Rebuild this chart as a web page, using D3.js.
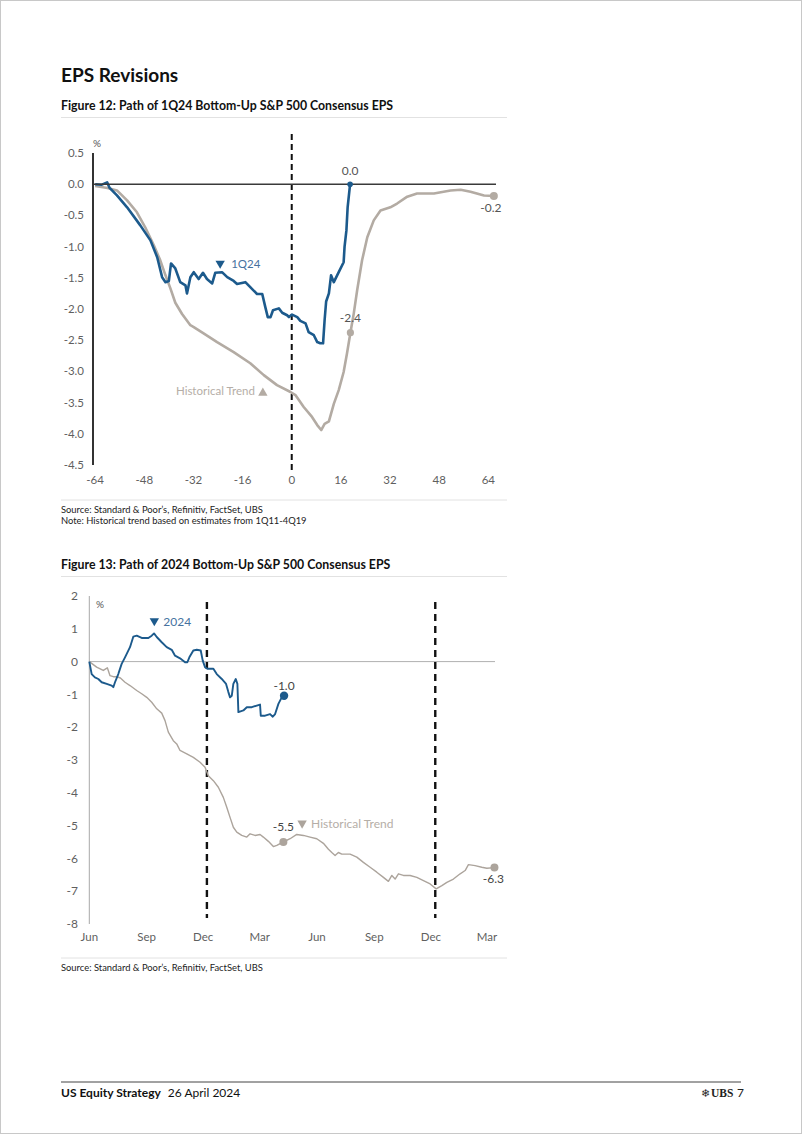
<!DOCTYPE html>
<html><head><meta charset="utf-8">
<script src="https://cdn.jsdelivr.net/npm/d3@7"></script>
<style>
html,body{margin:0;padding:0;background:#fff;}
svg{display:block;font-family:Lato,"Noto Sans",sans-serif;}
</style></head>
<body>
<script>
// ---------- Figure 12 data (x = trading weeks relative to quarter end, y = % revision) ----------
const fig12Ticks = [-64,-48,-32,-16,0,16,32,48,64];
const fig12YTicks = [0.5,0,-0.5,-1,-1.5,-2,-2.5,-3,-3.5,-4,-4.5];
const q124X = [-64,-62,-60.1,-59.3,-56.9,-53.6,-49.3,-46,-43.8,-42.2,-41.1,-40,-39.3,-37.9,-36.3,-34.6,-34.1,-33,-31.9,-30.3,-28.9,-27.6,-25.9,-24.9,-22.7,-21,-18.9,-17.8,-15.1,-13.5,-11.3,-9.6,-8.6,-7.8,-6.9,-6.1,-4.2,-3.1,-1.5,-0.9,0.1,1.8,2.8,4.5,5.5,7.2,8.3,9.3,10.2,10.7,11.2,12.1,12.8,13.7,15.3,16.9,17.2,17.8,18.2,19];
const q124Y = [0,-0.01,0.03,-0.06,-0.18,-0.37,-0.66,-0.9,-1.17,-1.49,-1.57,-1.55,-1.27,-1.35,-1.57,-1.62,-1.75,-1.49,-1.41,-1.52,-1.42,-1.52,-1.59,-1.42,-1.41,-1.49,-1.55,-1.6,-1.57,-1.65,-1.76,-1.76,-1.97,-2.13,-2.13,-2.02,-1.99,-2.06,-2.1,-2.13,-2.09,-2.13,-2.19,-2.23,-2.37,-2.42,-2.53,-2.55,-2.55,-2.18,-1.88,-1.75,-1.46,-1.57,-1.41,-1.25,-1.0,-0.74,-0.37,0.0];
const histX = [-64,-60,-56.9,-53.6,-50.4,-47.7,-44.9,-42.8,-41.1,-39.5,-37.9,-35.7,-33,-31.9,-28.7,-24.3,-18.9,-13.5,-9.1,-4.8,-0.4,1.2,3.9,6.6,8.3,9.6,10.7,12.1,13.7,15.3,16.9,18,19.1,20.2,21.3,22.9,24.6,26.7,28.9,32.1,34.3,37.6,40.8,46.3,51.7,55,58.2,62.6,65.8];
const histY = [-0.03,-0.06,-0.1,-0.26,-0.45,-0.69,-0.98,-1.22,-1.46,-1.67,-1.9,-2.08,-2.26,-2.29,-2.39,-2.53,-2.69,-2.87,-3.06,-3.22,-3.33,-3.38,-3.57,-3.73,-3.86,-3.94,-3.84,-3.8,-3.52,-3.3,-3.01,-2.71,-2.38,-2.07,-1.7,-1.22,-0.85,-0.58,-0.42,-0.37,-0.31,-0.2,-0.15,-0.15,-0.1,-0.09,-0.12,-0.18,-0.19];

// ---------- Figure 13 data (days since 1 Jun 2023, % revision) ----------
const fig13Start = "2023-06-01";
const fig13End = "2025-03-14";
const fig13TickDates = ["2023-06-01","2023-09-01","2023-12-01","2024-03-01","2024-06-01","2024-09-01","2024-12-01","2025-03-01"];
const fig13YTicks = [2,1,0,-1,-2,-3,-4,-5,-6,-7,-8];
const fig13Dashed = ["2023-12-07","2024-12-08"];
const y2024Day = [0,3.8,9,14.5,19.9,28,36,38.6,41.3,46.6,52,57.4,65.4,70.7,76.2,84.2,94.9,100.3,104,108.4,116.4,124.4,132.5,137.8,145.8,153.9,157.6,160.8,167.2,172.7,179.1,182.3,186,189.7,199.4,204.8,212.9,219.8,223.5,226.2,229,231.5,235.4,238,239.6,247.6,253.1,261.1,269.1,274.4,275.6,282.5,290.5,294.9,298.6,303.9,309.3,313];
const y2024Val = [0,-0.38,-0.48,-0.53,-0.63,-0.68,-0.73,-0.78,-0.63,-0.38,-0.07,0.13,0.44,0.76,0.79,0.72,0.72,0.79,0.86,0.75,0.59,0.44,0.36,0.18,0.1,-0.02,-0.02,0.13,0.34,0.36,0.34,0.03,-0.17,-0.22,-0.22,-0.38,-0.53,-0.68,-0.93,-1.09,-1.04,-0.68,-0.53,-0.68,-1.54,-1.49,-1.39,-1.39,-1.34,-1.31,-1.65,-1.65,-1.6,-1.68,-1.6,-1.29,-1.09,-1.04];
const hist13Day = [0,11.8,22.5,29,33.3,38.6,44,50,57.4,65.4,76.2,84.2,92.3,100.3,108.4,116.4,121.7,127,135,140.5,145.8,156.6,167.2,178,186,191.3,199.4,207.4,215.4,220.9,226.2,231.5,237,245,253.1,258.4,266.4,274.4,279.7,287.8,295.8,301.3,311.9,322.7,333.4,344.1,354.8,365.6,376.2,384.3,389.7,395,400.3,405.8,419.1,429.9,440.5,451.3,462,472.7,480.7,486.2,491.5,496.8,504.8,515.6,526.4,537,547.8,557.4,566.6,574.6,585.2,596,604,609.3,620,630.8,638.9,651.1];
const hist13Val = [0,-0.17,-0.27,-0.19,-0.43,-0.46,-0.46,-0.5,-0.63,-0.73,-0.88,-0.98,-1.09,-1.24,-1.44,-1.57,-1.8,-2.15,-2.41,-2.51,-2.71,-2.81,-2.92,-3.07,-3.22,-3.48,-3.63,-3.83,-4.14,-4.44,-4.75,-5.05,-5.2,-5.3,-5.35,-5.25,-5.3,-5.27,-5.35,-5.48,-5.64,-5.6,-5.5,-5.4,-5.27,-5.3,-5.35,-5.4,-5.54,-5.72,-5.82,-5.91,-5.82,-5.87,-5.87,-5.96,-6.12,-6.27,-6.42,-6.58,-6.7,-6.52,-6.63,-6.47,-6.52,-6.52,-6.58,-6.68,-6.78,-6.93,-6.83,-6.73,-6.63,-6.47,-6.37,-6.19,-6.22,-6.27,-6.3,-6.28];

// ---------- styles ----------
const BLUE = "#1c5a8c", BLUE_TXT = "#46729f", GREY = "#b3aba3", GREY2 = "#aca49c", GREY_TXT = "#b5aea7", TICK = "#5f5f5f";
const loc = d3.formatLocale({decimal:".", thousands:",", grouping:[3], currency:["",""], minus:"-"});
const fmt = loc.format(".1f"), fmtInt = loc.format("d");

const W = 802, H = 1134;
const svg = d3.select("body").append("svg").attr("width", W).attr("height", H);
svg.append("rect").attr("x",0.5).attr("y",0.5).attr("width",W-1).attr("height",H-1).attr("fill","#fff").attr("stroke","#c8c8c8");

// Header
svg.append("text").attr("x",61).attr("y",82).attr("font-size",19).attr("font-weight",700).attr("fill","#111").text("EPS Revisions");

function figTitle(y, txt, sepY, srcLines, srcSepY){
  svg.append("text").attr("x",61).attr("y",y).attr("font-size",12.3).attr("font-weight",700).attr("fill","#111").text(txt);
  svg.append("line").attr("x1",61).attr("x2",507).attr("y1",sepY).attr("y2",sepY).attr("stroke","#e2e2e2");
  svg.append("line").attr("x1",61).attr("x2",507).attr("y1",srcSepY).attr("y2",srcSepY).attr("stroke","#e2e2e2");
  srcLines.forEach((s,i)=> svg.append("text").attr("x",61).attr("y",srcSepY+13+i*10.5).attr("font-size",9.4).attr("fill","#222").text(s));
}
figTitle(110, "Figure 12: Path of 1Q24 Bottom-Up S&P 500 Consensus EPS", 117.5,
  ["Source: Standard & Poor’s, Refinitiv, FactSet, UBS","Note: Historical trend based on estimates from 1Q11-4Q19"], 500);
figTitle(569, "Figure 13: Path of 2024 Bottom-Up S&P 500 Consensus EPS", 576.5,
  ["Source: Standard & Poor’s, Refinitiv, FactSet, UBS"], 958);

// ================= Figure 12 =================
const x1 = d3.scaleLinear().domain([-64.7, 66.5]).range([93, 496]);
const y1 = d3.scaleLinear().domain([-4.5, 0.5]).range([465, 153]);
const g1 = svg.append("g");

g1.selectAll("text.yt").data(fig12YTicks).join("text")
  .attr("x",84).attr("y",d=>y1(d)).attr("dy","0.35em").attr("text-anchor","end")
  .attr("font-size",11.5).attr("fill",TICK).text(d=>fmt(d));
g1.selectAll("text.xt").data(fig12Ticks).join("text")
  .attr("x",d=>x1(d)).attr("y",483.5).attr("text-anchor","middle")
  .attr("font-size",11.5).attr("fill",TICK).text(d=>fmtInt(d));
g1.append("text").attr("x",93).attr("y",147).attr("font-size",10).attr("fill","#555").text("%");

// dashed zero week line
g1.append("line").attr("x1",x1(0)).attr("x2",x1(0)).attr("y1",134).attr("y2",471)
  .attr("stroke","#111").attr("stroke-width",2).attr("stroke-dasharray","6,4");

const line1 = d3.line().x(d=>x1(d[0])).y(d=>y1(d[1]));
g1.append("path").datum(histX.map((x,i)=>[x,histY[i]])).attr("d",line1)
  .attr("fill","none").attr("stroke",GREY).attr("stroke-width",2.6).attr("stroke-linejoin","round");
g1.append("path").datum(q124X.map((x,i)=>[x,q124Y[i]])).attr("d",line1)
  .attr("fill","none").attr("stroke",BLUE).attr("stroke-width",2.6).attr("stroke-linejoin","round");

// axes lines
g1.append("line").attr("x1",x1.range()[0]).attr("x2",x1.range()[1]).attr("y1",y1(0)).attr("y2",y1(0)).attr("stroke","#3a3a3a").attr("stroke-width",1.5);
g1.append("line").attr("x1",93).attr("x2",93).attr("y1",y1(0.5)).attr("y2",y1(-4.5)).attr("stroke","#333").attr("stroke-width",2);

// end markers & value labels
const bLast = q124X.length-1, hLast = histX.length-1, hAt = histX.indexOf(19.1);
g1.append("circle").attr("cx",x1(q124X[bLast])).attr("cy",y1(q124Y[bLast])).attr("r",2.8).attr("fill",BLUE);
g1.append("circle").attr("cx",x1(histX[hAt])).attr("cy",y1(histY[hAt])).attr("r",3.6).attr("fill",GREY);
g1.append("circle").attr("cx",x1(histX[hLast])).attr("cy",y1(histY[hLast])).attr("r",4).attr("fill",GREY);
g1.append("text").attr("x",x1(q124X[bLast])).attr("y",y1(q124Y[bLast])-9).attr("text-anchor","middle").attr("font-size",12).attr("fill","#555").text(fmt(q124Y[bLast]));
g1.append("text").attr("x",x1(histX[hAt])).attr("y",y1(histY[hAt])-11).attr("text-anchor","middle").attr("font-size",12).attr("fill","#555").text(fmt(histY[hAt]));
g1.append("text").attr("x",x1(histX[hLast])-3).attr("y",y1(histY[hLast])+16).attr("text-anchor","middle").attr("font-size",12).attr("fill","#555").text(fmt(histY[hLast]));

// series annotations
const tri = d3.symbol(d3.symbolTriangle).size(38);
g1.append("path").attr("d",tri()).attr("transform",`translate(${x1(-23.3)},${y1(-1.27)}) rotate(180)`).attr("fill",BLUE);
g1.append("text").attr("x",x1(-23.3)+11).attr("y",y1(-1.27)+4.5).attr("font-size",11.5).attr("fill",BLUE_TXT).text("1Q24");
g1.append("path").attr("d",tri()).attr("transform",`translate(${x1(-9.4)},${y1(-3.33)+1})`).attr("fill",GREY);
g1.append("text").attr("x",x1(-9.4)-8).attr("y",y1(-3.33)+3).attr("text-anchor","end").attr("font-size",11.5).attr("fill",GREY_TXT).text("Historical Trend");

// ================= Figure 13 =================
const parse = d3.utcParse("%Y-%m-%d");
const start = parse(fig13Start);
const dayToDate = d => new Date(start.getTime() + d*86400000);
const x2 = d3.scaleUtc().domain([start, parse(fig13End)]).range([89.3, 495]);
const y2 = d3.scaleLinear().domain([-8, 2]).range([924, 596]);
const g2 = svg.append("g");

g2.selectAll("text.yt").data(fig13YTicks).join("text")
  .attr("x",78).attr("y",d=>y2(d)).attr("dy","0.35em").attr("text-anchor","end")
  .attr("font-size",12).attr("fill",TICK).text(d=>fmtInt(d));
g2.selectAll("text.xt").data(fig13TickDates.map(parse)).join("text")
  .attr("x",d=>x2(d)).attr("y",941).attr("text-anchor","middle")
  .attr("font-size",11.5).attr("fill",TICK).text(d=>d3.utcFormat("%b")(d));
g2.append("text").attr("x",96).attr("y",608).attr("font-size",10).attr("fill","#555").text("%");

g2.append("line").attr("x1",89.3).attr("x2",495).attr("y1",y2(0)).attr("y2",y2(0)).attr("stroke","#b0b0b0").attr("stroke-width",1);
g2.append("line").attr("x1",89.3).attr("x2",89.3).attr("y1",y2(2)).attr("y2",y2(-8)).attr("stroke","#a8a8a8").attr("stroke-width",1);

g2.selectAll("line.dash").data(fig13Dashed.map(parse)).join("line")
  .attr("x1",d=>x2(d)).attr("x2",d=>x2(d)).attr("y1",602).attr("y2",918)
  .attr("stroke","#111").attr("stroke-width",2.4).attr("stroke-dasharray","7,5");

const line2 = d3.line().x(d=>x2(dayToDate(d[0]))).y(d=>y2(d[1]));
g2.append("path").datum(hist13Day.map((d,i)=>[d,hist13Val[i]])).attr("d",line2)
  .attr("fill","none").attr("stroke",GREY2).attr("stroke-width",1.4).attr("stroke-linejoin","round");
g2.append("path").datum(y2024Day.map((d,i)=>[d,y2024Val[i]])).attr("d",line2)
  .attr("fill","none").attr("stroke",BLUE).attr("stroke-width",1.9).attr("stroke-linejoin","round");

const b2 = y2024Day.length-1, h2Last = hist13Day.length-1, h2At = hist13Day.indexOf(311.9);
g2.append("circle").attr("cx",x2(dayToDate(y2024Day[b2]))).attr("cy",y2(y2024Val[b2])).attr("r",4.2).attr("fill",BLUE);
g2.append("circle").attr("cx",x2(dayToDate(hist13Day[h2At]))).attr("cy",y2(hist13Val[h2At])).attr("r",4).attr("fill",GREY2);
g2.append("circle").attr("cx",x2(dayToDate(hist13Day[h2Last]))).attr("cy",y2(hist13Val[h2Last])).attr("r",4).attr("fill",GREY2);
g2.append("text").attr("x",x2(dayToDate(y2024Day[b2]))).attr("y",y2(y2024Val[b2])-6).attr("text-anchor","middle").attr("font-size",12).attr("fill","#444").text(fmt(y2024Val[b2]));
g2.append("text").attr("x",x2(dayToDate(hist13Day[h2At]))).attr("y",y2(hist13Val[h2At])-11).attr("text-anchor","middle").attr("font-size",12).attr("fill","#444").text(fmt(hist13Val[h2At]));
g2.append("text").attr("x",x2(dayToDate(hist13Day[h2Last]))-1).attr("y",y2(hist13Val[h2Last])+15).attr("text-anchor","middle").attr("font-size",12).attr("fill","#444").text(fmt(hist13Val[h2Last]));

g2.append("path").attr("d",tri()).attr("transform",`translate(${x2(dayToDate(104.5))},${y2(1.24)}) rotate(180)`).attr("fill",BLUE);
g2.append("text").attr("x",x2(dayToDate(104.5))+9).attr("y",y2(1.24)+5).attr("font-size",12).attr("fill",BLUE_TXT).text("2024");
g2.append("path").attr("d",tri()).attr("transform",`translate(${x2(dayToDate(342))},${y2(-4.93)}) rotate(180)`).attr("fill",GREY2);
g2.append("text").attr("x",x2(dayToDate(342))+9).attr("y",y2(-4.93)+4.5).attr("font-size",12).attr("fill",GREY_TXT).text("Historical Trend");

// ================= Footer =================
svg.append("line").attr("x1",61).attr("x2",741).attr("y1",1082).attr("y2",1082).attr("stroke","#444").attr("stroke-width",1);
const ft = svg.append("text").attr("x",61).attr("y",1097).attr("font-size",12).attr("fill","#111");
ft.append("tspan").attr("font-weight",700).text("US Equity Strategy");
ft.append("tspan").attr("dx",7).text("26 April 2024");
svg.append("text").attr("x",701).attr("y",1097).attr("font-size",11).attr("fill","#222").text("❄");
svg.append("text").attr("x",711).attr("y",1097).attr("font-size",11.5).attr("font-family","Liberation Serif").attr("font-weight",700).attr("fill","#222").text("UBS");
svg.append("text").attr("x",737).attr("y",1097).attr("font-size",12).attr("fill","#222").text("7");
</script>
</body></html>
